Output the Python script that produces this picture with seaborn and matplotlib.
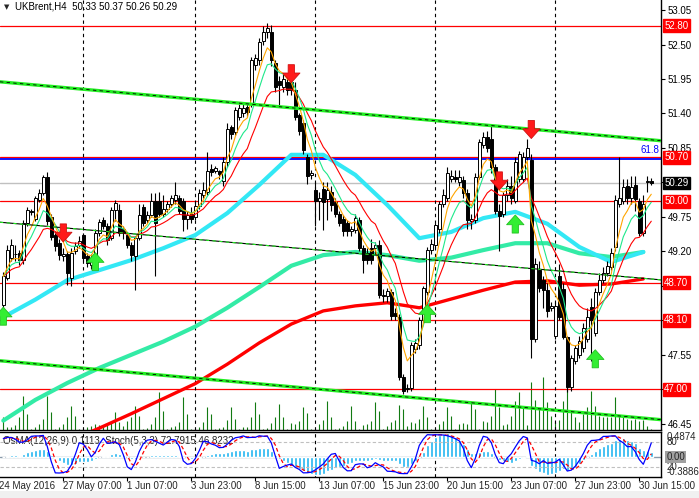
import numpy as np
import pandas as pd
import seaborn as sns
import matplotlib.pyplot as plt
import matplotlib.transforms as mtransforms

# ---- H4 candles (bar index 0 .. 162) ----
opens = [48.35, 48.78, 49.10, 49.15, 49.18, 49.06, 49.65, 49.85, 49.72, 50.02,
         50.13, 50.39, 49.75, 49.46, 49.34, 49.12, 49.16, 48.78, 49.20, 49.30,
         49.46, 49.12, 48.98, 49.10, 49.50, 49.70, 49.60, 49.42, 49.86, 49.86,
         49.55, 49.46, 49.30, 49.12, 49.42, 49.90, 49.70, 49.78, 50.00, 50.00,
         49.80, 49.88, 49.95, 50.02, 50.05, 50.00, 49.72, 49.80, 49.75, 49.92,
         50.10, 50.15, 50.52, 50.48, 50.48, 50.33, 50.62, 51.18, 51.10, 51.35,
         51.40, 51.50, 51.56, 52.17, 52.25, 52.55, 52.70, 52.70, 52.20, 51.92,
         51.82, 51.90, 51.90, 51.78, 51.38, 51.25, 50.70, 50.42, 50.18, 50.00,
         50.20, 50.03, 50.15, 49.98, 49.80, 49.72, 49.66, 49.52, 49.54, 49.70,
         49.25, 49.18, 49.25, 49.25, 49.30, 48.51, 48.48, 48.55, 48.22, 48.15,
         47.20, 47.00, 47.02, 47.65, 47.70, 48.11, 48.55, 49.22, 49.30, 49.55,
         49.95, 50.05, 50.35, 50.38, 50.30, 50.34, 50.13, 49.68, 49.70, 50.38,
         50.90, 51.02, 51.00, 50.55, 49.85, 49.80, 50.10, 50.25, 50.00, 50.35,
         50.35, 50.70, 50.66, 47.80, 48.90, 48.75, 48.58, 48.30, 47.85, 48.80,
         48.60, 47.83, 47.03, 47.45, 47.55, 47.66, 47.80, 48.31, 47.90, 48.55,
         48.75, 48.86, 48.95, 49.27, 49.95, 50.00, 50.25, 50.05, 50.26, 50.00,
         49.50, 50.30, 50.33]
highs = [48.87, 49.30, 49.40, 49.30, 49.22, 49.70, 49.91, 49.88, 50.08, 50.20,
         50.42, 50.47, 49.80, 49.50, 49.40, 49.25, 49.20, 49.25, 49.35, 49.45,
         49.50, 49.18, 49.15, 49.55, 49.72, 49.75, 49.65, 49.90, 50.02, 49.95,
         49.60, 49.50, 49.35, 49.45, 49.95, 49.95, 49.85, 50.13, 50.13, 50.15,
         50.10, 50.00, 50.10, 50.30, 50.10, 50.05, 49.85, 49.90, 50.00, 50.20,
         50.30, 50.78, 50.60, 50.56, 50.50, 50.70, 51.25, 51.22, 51.50, 51.55,
         51.55, 51.55, 52.30, 52.35, 52.60, 52.80, 52.85, 52.81, 52.25, 52.00,
         52.05, 52.00, 52.10, 51.90, 51.40, 51.30, 50.75, 50.50, 50.30, 50.15,
         50.30, 50.30, 50.25, 50.05, 49.85, 49.78, 49.70, 49.60, 49.80, 49.75,
         49.30, 49.25, 49.40, 49.35, 49.38, 48.60, 48.62, 48.60, 48.30, 48.20,
         47.25, 47.08, 47.75, 47.80, 48.15, 48.65, 49.27, 49.40, 49.65, 50.00,
         50.20, 50.55, 50.50, 50.50, 50.50, 50.40, 50.20, 49.80, 50.45, 51.00,
         51.10, 51.12, 51.20, 50.60, 49.95, 50.15, 50.35, 50.40, 50.70, 50.80,
         50.78, 51.00, 50.75, 49.10, 49.05, 48.80, 48.70, 48.40, 48.40, 49.00,
         48.70, 47.85, 47.55, 47.70, 47.85, 48.05, 48.30, 48.45, 48.62, 48.85,
         48.95, 49.05, 49.25, 50.10, 50.70, 50.35, 50.35, 50.40, 50.40, 50.05,
         50.10, 50.40, 50.37]
lows = [48.27, 48.75, 49.05, 49.05, 48.98, 49.00, 49.60, 49.78, 49.68, 49.98,
        50.10, 49.62, 49.38, 49.20, 49.06, 49.05, 48.66, 48.64, 49.15, 49.25,
        49.05, 48.95, 48.92, 49.05, 49.45, 49.55, 49.30, 49.38, 49.68, 49.45,
        49.40, 49.25, 49.05, 48.58, 49.38, 49.60, 49.65, 49.75, 48.80, 49.75,
        49.75, 49.82, 49.90, 49.95, 49.80, 49.52, 49.55, 49.65, 49.70, 49.88,
        50.05, 50.10, 50.40, 50.45, 50.35, 50.25, 50.55, 51.00, 51.05, 51.30,
        51.35, 51.35, 51.50, 52.10, 52.18, 52.50, 52.60, 52.15, 51.75, 51.54,
        51.75, 51.70, 51.70, 51.30, 51.05, 50.75, 50.28, 50.35, 49.60, 49.70,
        49.54, 49.70, 49.85, 49.75, 49.60, 49.45, 49.45, 49.45, 49.50, 49.20,
        48.86, 49.00, 49.00, 49.15, 48.45, 48.40, 48.40, 48.10, 48.10, 47.15,
        46.92, 46.95, 46.98, 47.58, 47.65, 48.05, 48.50, 49.15, 49.25, 49.50,
        49.90, 50.00, 50.30, 50.30, 50.25, 50.05, 49.55, 49.55, 49.65, 50.35,
        50.85, 50.78, 50.45, 49.80, 49.20, 49.75, 50.00, 49.95, 49.97, 50.30,
        50.30, 50.65, 47.50, 47.75, 48.55, 48.30, 48.15, 48.25, 47.80, 48.10,
        47.80, 46.95, 46.98, 47.40, 47.50, 47.60, 47.75, 47.45, 47.85, 48.50,
        48.70, 48.80, 48.90, 49.20, 49.90, 49.95, 49.95, 49.95, 49.85, 49.45,
        49.45, 50.15, 50.26]
closes = [48.80, 49.22, 49.30, 49.14, 49.06, 49.65, 49.86, 49.83, 50.05, 50.13,
          50.39, 49.68, 49.43, 49.28, 49.14, 49.16, 48.86, 49.18, 49.28, 49.36,
          49.10, 49.02, 49.10, 49.50, 49.67, 49.60, 49.38, 49.86, 49.97, 49.50,
          49.50, 49.30, 49.14, 49.42, 49.78, 49.65, 49.78, 50.00, 49.65, 49.80,
          49.88, 49.95, 50.05, 50.10, 49.85, 49.72, 49.78, 49.72, 49.92, 50.13,
          50.18, 50.48, 50.47, 50.53, 50.43, 50.62, 51.15, 51.08, 51.45, 51.48,
          51.48, 51.42, 52.25, 52.28, 52.54, 52.70, 52.77, 52.25, 51.82, 51.85,
          51.95, 51.78, 51.78, 51.35, 51.12, 50.82, 50.40, 50.45, 50.00, 50.05,
          49.98, 50.18, 49.94, 49.80, 49.66, 49.52, 49.52, 49.56, 49.73, 49.25,
          49.06, 49.06, 49.06, 49.30, 48.50, 48.48, 48.56, 48.17, 48.17, 47.20,
          46.98, 47.02, 47.71, 47.73, 48.11, 48.61, 49.22, 49.32, 49.62, 49.95,
          50.10, 50.45, 50.40, 50.35, 50.38, 50.13, 49.70, 49.72, 50.38, 50.95,
          51.02, 50.85, 50.55, 49.85, 49.76, 50.10, 50.25, 50.05, 50.62, 50.75,
          50.70, 50.85, 47.80, 49.00, 48.62, 48.58, 48.25, 48.33, 48.33, 48.15,
          47.83, 47.03, 47.50, 47.66, 47.77, 47.97, 48.15, 48.11, 48.55, 48.74,
          48.86, 48.96, 49.18, 50.02, 50.05, 50.22, 50.05, 50.22, 50.03, 49.50,
          49.95, 50.33, 50.29]
# tick volume per bar
volumes = [1300, 300, 300, 500, 1300, 3400, 1600, 100, 300, 600,
           1100, 3400, 1800, 100, 300, 600, 1300, 2400, 1400, 100,
           100, 300, 400, 600, 500, 400, 600, 800, 1800, 800,
           400, 900, 1300, 2400, 1400, 100, 200, 600, 1300, 3800,
           1900, 100, 300, 400, 800, 3300, 1600, 100, 100, 300,
           800, 2300, 1600, 100, 200, 300, 1000, 2300, 1100, 100,
           300, 300, 1300, 2800, 1600, 100, 200, 700, 1300, 2600,
           1300, 100, 700, 600, 900, 2300, 1700, 100, 100, 600,
           1000, 2900, 1300, 100, 200, 400, 900, 2400, 900, 100,
           500, 600, 900, 2800, 1900, 100, 400, 800, 1000, 2500,
           2100, 400, 800, 700, 1100, 2400, 1300, 100, 200, 600,
           900, 2300, 1400, 100, 600, 700, 600, 2800, 2100, 100,
           900, 800, 1400, 4100, 2300, 500, 600, 1400, 2900, 3800,
           2300, 500, 4800, 3000, 2100, 5300, 2800, 1400, 800, 1000,
           2900, 5200, 1900, 1300, 800, 1600, 2300, 3900, 2400, 1400,
           1300, 1300, 1300, 3300, 1400, 1400, 1100, 1000, 1100, 900,
           1000, 400, 100]

# slow moving averages, sampled every 8 bars
ma_bars = [0, 8, 16, 24, 32, 40, 48, 56, 64, 72, 80, 88, 96, 104, 112, 120,
           128, 136, 144, 152, 160]
ma_cyan = [48.15, 48.43, 48.74, 48.90, 49.06, 49.25, 49.46, 49.81, 50.26, 50.74,
           50.74, 50.42, 49.94, 49.41, 49.51, 49.73, 49.83, 49.64, 49.27, 49.03,
           49.19]
ma_aqua = [46.50, 46.83, 47.10, 47.34, 47.55, 47.76, 48.00, 48.30, 48.63, 48.97,
           49.14, 49.19, 49.14, 49.05, 49.10, 49.22, 49.33, 49.33, 49.17, 49.11,
           49.19]
ma_red = [45.68, 45.92, 46.16, 46.38, 46.61, 46.85, 47.09, 47.40, 47.74, 48.04,
          48.25, 48.33, 48.38, 48.30, 48.44, 48.58, 48.71, 48.73, 48.66, 48.68,
          48.76]

levels = [52.80, 50.70, 50.00, 48.70, 48.10, 47.00]
fib_level = 50.68
last_price = 50.29
price_ticks = [53.05, 52.50, 51.95, 51.40, 50.85, 50.30, 49.75, 49.20, 48.65,
               48.10, 47.55, 47.00, 46.45]
# tick values whose labels sit under a level box
hidden_ticks = [50.30, 48.65, 48.10, 47.00]

channel_bars = [0, 160]
channel_upper = [51.90, 50.99]
channel_mid = [49.66, 48.77]
channel_low = [47.45, 46.54]

week_bars = [20, 48, 78, 108, 138]
date_bars = [-1, 15, 31, 47, 63, 79, 95, 111, 127, 143, 159]
date_labels = ["24 May 2016", "27 May 07:00", "1 Jun 07:00", "3 Jun 23:00",
               "8 Jun 15:00", "13 Jun 07:00", "15 Jun 23:00", "20 Jun 15:00",
               "23 Jun 07:00", "27 Jun 23:00", "30 Jun 15:00"]

sell_bars = [15, 72, 124, 132]
sell_tips = [49.35, 51.89, 50.18, 51.00]
buy_bars = [0, 23, 106, 128, 148]
buy_tips = [48.31, 49.18, 48.35, 49.78, 47.63]

sns.set_style("white")
plt.rcParams["font.family"] = ["Liberation Sans", "DejaVu Sans"]

df = pd.DataFrame({"open": opens, "high": highs, "low": lows,
                   "close": closes, "volume": volumes})
df["bar"] = np.arange(len(df))
df["ema_fast"] = df["close"].ewm(span=5, adjust=False).mean()
df["ema_mid"] = df["close"].ewm(span=8, adjust=False).mean()
df["ema_slow"] = df["close"].ewm(span=15, adjust=False).mean()

# OsMA(12,26,9) and Stoch(5,3,3)
macd = df["close"].ewm(span=12, adjust=False).mean() - df["close"].ewm(span=26, adjust=False).mean()
df["osma"] = macd - macd.rolling(9, min_periods=1).mean()
ll = df["low"].rolling(5, min_periods=1).min()
hh = df["high"].rolling(5, min_periods=1).max()
df["stoch"] = 100 * (df["close"] - ll).rolling(3, min_periods=1).sum() / (hh - ll).rolling(3, min_periods=1).sum()
df["stoch_sig"] = df["stoch"].rolling(3, min_periods=1).mean()

ma_df = pd.DataFrame({"bar": ma_bars, "cyan": ma_cyan, "aqua": ma_aqua, "red": ma_red})

W, H = 699, 498
fig = plt.figure(figsize=(W / 100, H / 100), dpi=100)
ax = fig.add_axes([0, (H - 430) / H, 661 / W, 430 / H])
ax2 = fig.add_axes([0, (H - 477) / H, 661 / W, 45 / H])
xlim = (-0.825, 164.43)

# volumes at the bottom of the price window
ax.vlines(df["bar"], 0, df["volume"] / 43000, color="#127a12", lw=0.8,
          transform=ax.get_xaxis_transform(), zorder=1)

# levels
for lv in levels:
    ax.axhline(lv, color="#ff0000", lw=0.9, zorder=2)
ax.axhline(fib_level, color="#0000ff", lw=1.3, zorder=2)
ax.axhline(last_price, color="#c0c0c0", lw=1.0, zorder=2)
for wb in week_bars:
    ax.axvline(wb, color="black", lw=0.8, ls=(0, (3, 3)), zorder=2)
    ax2.axvline(wb, color="black", lw=0.8, ls=(0, (3, 3)), zorder=1)

# slow MAs
sns.lineplot(data=ma_df, x="bar", y="red", ax=ax, color="#ff0000", lw=2.4, zorder=3)
sns.lineplot(data=ma_df, x="bar", y="aqua", ax=ax, color="#33eba6", lw=3.0, zorder=3)
sns.lineplot(data=ma_df, x="bar", y="cyan", ax=ax, color="#33e8f5", lw=3.0, zorder=3)

# candles
ax.vlines(df["bar"], df["low"], df["high"], color="black", lw=0.8, zorder=4)
body = (df["close"] - df["open"]).where(lambda s: s.abs() > 0.015, 0.015)
up = df["close"] >= df["open"]
ax.bar(df["bar"], body, bottom=df["open"], width=0.72,
       color=np.where(up, "white", "black"), edgecolor="black", lw=0.7, zorder=5)

# fast MAs
sns.lineplot(data=df, x="bar", y="ema_slow", ax=ax, color="#ff0000", lw=0.8, zorder=6)
sns.lineplot(data=df, x="bar", y="ema_mid", ax=ax, color="#1ee88a", lw=0.8, zorder=6)
sns.lineplot(data=df, x="bar", y="ema_fast", ax=ax, color="#ffa500", lw=0.8, zorder=6)

# channel
for prices, thick in [(channel_upper, True), (channel_low, True), (channel_mid, False)]:
    p1, p2 = (channel_bars[0], prices[0]), (channel_bars[1], prices[1])
    if thick:
        ax.axline(p1, p2, color="#22ee22", lw=2.4, zorder=7)
        ax.axline(p1, p2, color="black", lw=0.6, ls=(0, (4, 4)), zorder=7)
    else:
        ax.axline(p1, p2, color="black", lw=0.8, zorder=7)
        ax.axline(p1, p2, color="#22ee22", lw=0.8, ls=(0, (3, 3)), zorder=7)

# signal arrows
astyle = "simple,head_length=0.7,head_width=1.25,tail_width=0.45"
for b, p in zip(sell_bars, sell_tips):
    ax.annotate("", xy=(b, p), xytext=(0, 13), textcoords="offset points", zorder=8,
                arrowprops=dict(arrowstyle=astyle, fc="#ff1a1a", ec="#d01010", lw=0.6,
                                shrinkA=0, shrinkB=0))
for b, p in zip(buy_bars, buy_tips):
    ax.annotate("", xy=(b, p), xytext=(0, -13), textcoords="offset points", zorder=8,
                arrowprops=dict(arrowstyle=astyle, fc="#33ee33", ec="#22c022", lw=0.6,
                                shrinkA=0, shrinkB=0))

ax.set_xlim(xlim)
ax.set_ylim(46.35, 53.21)
ax.set_xlabel("")
ax.set_ylabel("")
ax.set_xticks([])
ax.yaxis.tick_right()
ax.set_yticks(price_ticks)
ax.set_yticklabels(["" if t in hidden_ticks else f"{t:.2f}" for t in price_ticks])
ax.tick_params(axis="y", length=3, width=0.8, pad=2, labelsize=7, colors="black", right=True)
for s in ["left", "top"]:
    ax.spines[s].set_visible(False)
for s in ["right", "bottom"]:
    ax.spines[s].set_color("black")
    ax.spines[s].set_linewidth(1.0)

lab_tr = mtransforms.blended_transform_factory(ax.transAxes, ax.transData)
for lv in levels:
    ax.text(1.005, lv, f"{lv:.2f}", transform=lab_tr, ha="left", va="center", color="white",
            fontsize=7, zorder=10, clip_on=False,
            bbox=dict(boxstyle="square,pad=0.15", fc="#ff0000", ec="#ff0000"))
ax.text(1.005, last_price, f"{last_price:.2f}", transform=lab_tr, ha="left", va="center",
        color="white", fontsize=7, zorder=10, clip_on=False,
        bbox=dict(boxstyle="square,pad=0.15", fc="black", ec="black"))
ax.text(0.998, fib_level + 0.05, "61.8", transform=lab_tr, ha="right", va="bottom",
        color="#0000ff", fontsize=7, zorder=10)

ax.text(0.006, 0.984, "\u25bc", transform=ax.transAxes, fontsize=5, va="center",
        ha="left", family=["DejaVu Sans"])
ax.text(0.023, 0.984, "UKBrent,H4  50.33 50.37 50.26 50.29", transform=ax.transAxes,
        fontsize=7, va="center", ha="left", color="black")

# indicator window
ax2.axhline(0, color="#8899aa", lw=1.0, zorder=1)
ax2.bar(df["bar"], df["osma"], width=0.75, color="#1eb4f0", zorder=2)
ax2.set_xlim(xlim)
ax2.set_ylim(-0.3886, 0.4874)
ax3 = ax2.twinx()
ax3.axhline(80, color="#c0c0c0", lw=0.8, ls=(0, (3, 2)))
ax3.axhline(20, color="#c0c0c0", lw=0.8, ls=(0, (3, 2)))
sns.lineplot(data=df, x="bar", y="stoch_sig", ax=ax3, color="#ff0000", lw=0.9, ls=(0, (3, 2)))
sns.lineplot(data=df, x="bar", y="stoch", ax=ax3, color="#0000ff", lw=0.9)
ax3.set_ylim(-4, 104)
ax3.set_xlim(xlim)
for a in (ax2, ax3):
    a.set_xticks([])
    a.set_yticks([])
    a.set_xlabel("")
    a.set_ylabel("")
    for s in a.spines.values():
        s.set_visible(False)
ax2.set_xticks(date_bars[1:])
ax2.set_xticklabels([])
ax2.tick_params(axis="x", bottom=True, length=3, width=0.8, color="black")
for s in ["top", "right", "bottom"]:
    ax2.spines[s].set_visible(True)
    ax2.spines[s].set_color("black")
    ax2.spines[s].set_linewidth(1.0)

ax2.text(0.005, 0.8, "OsMA(12,26,9) 0.1113  Stoch(5,3,3) 72.7915 46.8232",
         transform=ax2.transAxes, fontsize=7, va="center", ha="left", color="#222222", zorder=5)
ax2.text(1.008, 1.0, "0.4874", transform=ax2.transAxes, fontsize=7, va="top", ha="left")
ax2.text(1.008, 0.78, "80", transform=ax2.transAxes, fontsize=7, va="center", ha="left")
ax2.text(1.008, 0.22, "20", transform=ax2.transAxes, fontsize=7, va="center", ha="left")
ax2.text(1.008, 0.0, "-0.3886", transform=ax2.transAxes, fontsize=7, va="bottom", ha="left")
ax2.text(1.008, 0.445, "0.00", transform=ax2.transAxes, fontsize=7, va="center", ha="left",
         bbox=dict(boxstyle="square,pad=0.1", fc="#a0a0a0", ec="none"))

date_tr = mtransforms.blended_transform_factory(ax2.transData, ax2.transAxes)
for b, lab in zip(date_bars, date_labels):
    ax2.text(b, -0.19, lab, transform=date_tr, fontsize=7, va="center", ha="left",
             clip_on=False)

fig.patches.append(plt.Rectangle((0, 0), 1, 7 / H, transform=fig.transFigure,
                                 fc="#f0f0f0", ec="none"))

fig.savefig("out.png", dpi=100)
